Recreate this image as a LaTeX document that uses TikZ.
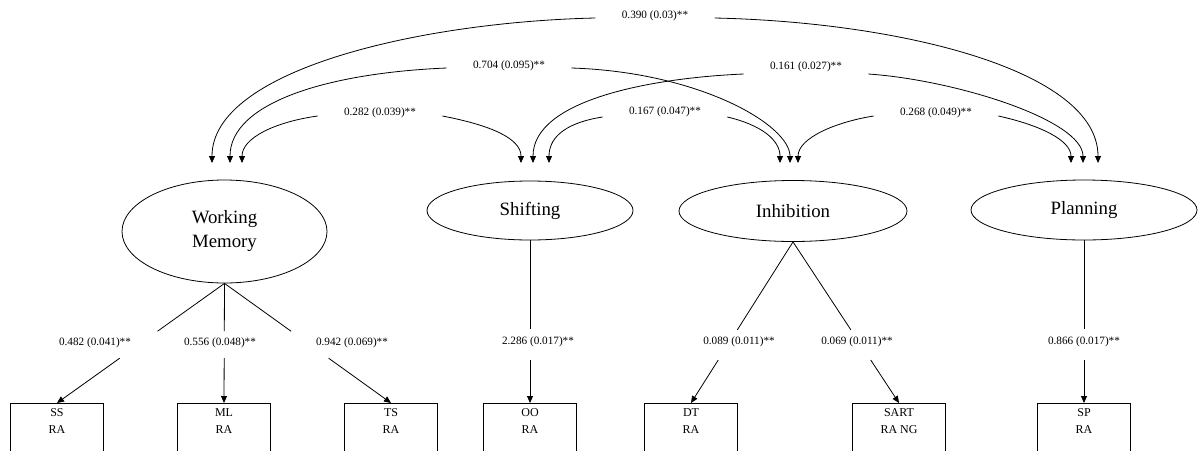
\documentclass[tikz,border=0pt]{standalone}
\usepackage{fontspec}
\setmainfont{Liberation Serif}
\usetikzlibrary{shapes.geometric,arrows.meta,calc}

\tikzset{
  latent/.style={draw, ellipse, inner sep=0pt, align=center, font=\fontsize{18.8}{24}\selectfont},
  observed/.style={draw, rectangle, anchor=north, minimum width=93pt, inner ysep=5pt, text depth=50pt, align=center, font=\fontsize{12}{17}\selectfont},
  coef/.style={inner sep=0pt, font=\fontsize{11.2}{13}\selectfont},
  covlabel/.style={coef, inner xsep=26pt},
  headarrow/.style={-{Triangle[length=7pt,width=6pt]}},
}

\begin{document}
\begin{tikzpicture}[x=1pt, y=-1pt, line width=0.8pt]
\useasboundingbox (0,0) rectangle (1198,450);

\node[latent, minimum width=205pt, minimum height=103pt] (wm) at (224.5,231.5) {Working\\Memory};

\node[latent, minimum width=206pt, minimum height=59pt] (shf) at (530,210.5) {Shifting};

\node[latent, minimum width=228pt, minimum height=61pt] (inh) at (793,211) {Inhibition};

\node[latent, minimum width=226pt, minimum height=60pt] (pln) at (1084,210) {Planning};

\node[observed] (ss) at (57,403) {SS\\RA};
\node[observed] (ml) at (224,403) {ML\\RA};
\node[observed] (ts) at (391,403) {TS\\RA};
\node[observed] (oo) at (530,403) {OO\\RA};
\node[observed] (dt) at (691,403) {DT\\RA};
\node[observed] (sart) at (899,403) {SART\\RA NG};
\node[observed] (sp) at (1084,403) {SP\\RA};

% loadings, gap left open round each label
\node[coef] (l482) at (95,343) {0.482 (0.041)**};
\draw (wm.south) -- ($(wm.south)!0.40!(ss.north)$);
\draw[headarrow] ($(wm.south)!0.625!(ss.north)$) -- (ss.north);
\node[coef] (l556) at (220,343) {0.556 (0.048)**};
\draw (wm.south) -- ($(wm.south)!0.40!(ml.north)$);
\draw[headarrow] ($(wm.south)!0.625!(ml.north)$) -- (ml.north);
\node[coef] (l942) at (352,343) {0.942 (0.069)**};
\draw (wm.south) -- ($(wm.south)!0.40!(ts.north)$);
\draw[headarrow] ($(wm.south)!0.625!(ts.north)$) -- (ts.north);
\node[coef] (l2286) at (538,342) {2.286 (0.017)**};
\draw (shf.south) -- ($(shf.south)!0.546!(oo.north)$);
\draw[headarrow] ($(shf.south)!0.733!(oo.north)$) -- (oo.north);
\node[coef] (l089) at (739,342) {0.089 (0.011)**};
\draw (inh.south) -- ($(inh.south)!0.546!(dt.north)$);
\draw[headarrow] ($(inh.south)!0.733!(dt.north)$) -- (dt.north);
\node[coef] (l069) at (857,342) {0.069 (0.011)**};
\draw (inh.south) -- ($(inh.south)!0.546!(sart.north)$);
\draw[headarrow] ($(inh.south)!0.733!(sart.north)$) -- (sart.north);
\node[coef] (l866) at (1084,342) {0.866 (0.017)**};
\draw (pln.south) -- ($(pln.south)!0.546!(sp.north)$);
\draw[headarrow] ($(pln.south)!0.733!(sp.north)$) -- (sp.north);

% arrow ends above the factors
\coordinate (wm-a) at (212,163);
\coordinate (wm-b) at (230,163);
\coordinate (wm-c) at (242,163);
\coordinate (shf-a) at (521,163);
\coordinate (shf-b) at (533,163);
\coordinate (shf-c) at (549,163);
\coordinate (inh-a) at (780,163);
\coordinate (inh-b) at (790,163);
\coordinate (inh-c) at (798,163);
\coordinate (pln-a) at (1071,163);
\coordinate (pln-b) at (1083,163);
\coordinate (pln-c) at (1098,163);

% covariances
\node[covlabel] (c390) at (655,16) {0.390 (0.03)**};
\draw[headarrow] ([yshift=-2pt]c390.west) .. controls +(-176,4) and +(0,-93) .. (wm-a);
\draw[headarrow] ([yshift=-2pt]c390.east) .. controls +(185,4) and +(0,-93) .. (pln-c);
\node[covlabel] (c704) at (509,66) {0.704 (0.095)**};
\draw[headarrow] ([yshift=-2pt]c704.west) .. controls +(-120,5) and +(0,-60) .. (wm-b);
\draw[headarrow] ([yshift=-2pt]c704.east) .. controls +(128,4) and +(0,-38) .. (inh-b);
\node[covlabel] (c161) at (806,67) {0.161 (0.027)**};
\draw[headarrow] ([yshift=-7pt]c161.west) .. controls +(-93,4) and +(0,-63) .. (shf-b);
\draw[headarrow] ([yshift=-7pt]c161.east) .. controls +(87,6) and +(0,-43) .. (pln-b);
\node[covlabel] (c282) at (380,113) {0.282 (0.039)**};
\draw[headarrow] ([yshift=-3pt]c282.west) .. controls +(-43,6) and +(0,-25) .. (wm-c);
\draw[headarrow] ([yshift=-3pt]c282.east) .. controls +(47,9) and +(0,-25) .. (shf-a);
\node[covlabel] (c167) at (665,112) {0.167 (0.047)**};
\draw[headarrow] ([yshift=-5pt]c167.west) .. controls +(-33,5) and +(0,-28) .. (shf-c);
\draw[headarrow] ([yshift=-5pt]c167.east) .. controls +(34,8) and +(0,-23) .. (inh-a);
\node[covlabel] (c268) at (936,113) {0.268 (0.049)**};
\draw[headarrow] ([yshift=-3pt]c268.west) .. controls +(-38,6) and +(0,-25) .. (inh-c);
\draw[headarrow] ([yshift=-3pt]c268.east) .. controls +(41,9) and +(0,-23) .. (pln-a);
\end{tikzpicture}
\end{document}
